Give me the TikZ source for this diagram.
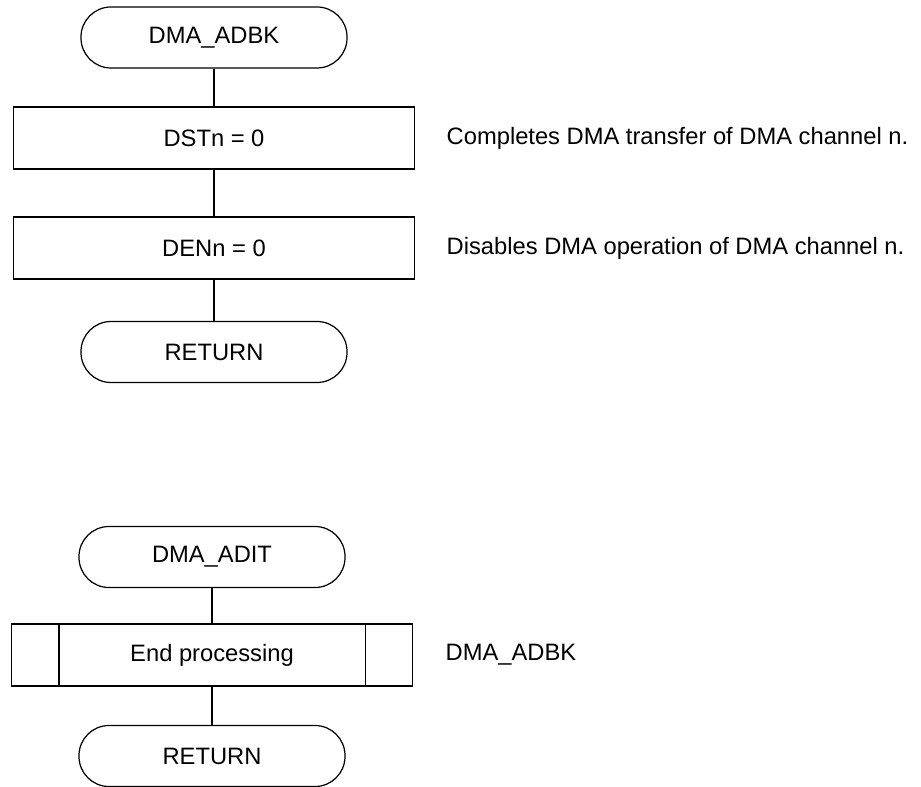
\documentclass[tikz,border=0pt]{standalone}
\usepackage{fontspec}
\setmainfont{Liberation Sans}
\usetikzlibrary{shapes,positioning}

\begin{document}
\begin{tikzpicture}[
	terminal/.style={rectangle,draw,rounded corners=0.6cm,minimum width=5.32cm,minimum height=1.22cm},
	process/.style={rectangle,draw,minimum width=8.02cm,minimum height=1.24cm},
	note/.style={inner sep=0pt},
	line width=0.7pt,font=\fontsize{13.5}{16}\selectfont]

	\def\topx{4.28}
	\def\botx{4.24}
	\def\subsep{0.96cm}
	
	\useasboundingbox (0,0) rectangle (18.42,-15.74);
	
	\node[terminal] (adbk) at (\topx,-0.75) {DMA\_ADBK};
	\node[process] (dst) at (\topx,-2.76) {DSTn = 0};
	\node[process] (den) at (\topx,-4.96) {DENn = 0};
	\node[terminal] (ret1) at (\topx,-7.04) {RETURN};
	
	\node[note,right=0.62cm of dst] (dstnote) {Completes DMA transfer of DMA channel n.};
	\node[note,right=0.62cm of den] (dennote) {Disables DMA operation of DMA channel n.};
	
	\path[-] (adbk) edge (dst);
	\path[-] (dst) edge (den);
	\path[-] (den) edge (ret1);
	
	\node[terminal] (adit) at (\botx,-11.14) {DMA\_ADIT};
	\node[process] (endproc) at (\botx,-13.10) {End processing};
	\node[terminal] (ret2) at (\botx,-15.12) {RETURN};
	
	\draw ([xshift=\subsep]endproc.north west) -- ([xshift=\subsep]endproc.south west);
	\draw ([xshift=-\subsep]endproc.north east) -- ([xshift=-\subsep]endproc.south east);
	
	\node[note,right=0.64cm of endproc] (endnote) {DMA\_ADBK};
	
	\path[-] (adit) edge (endproc);
	\path[-] (endproc) edge (ret2);
	
\end{tikzpicture}
\end{document}
